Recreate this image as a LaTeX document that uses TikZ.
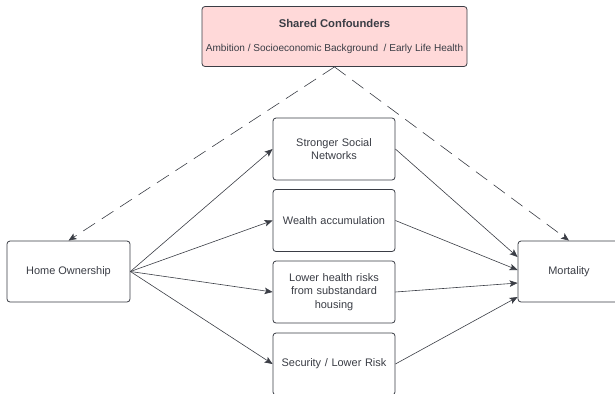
\documentclass[tikz,border=0pt]{standalone}
\usepackage{fontspec}
\setmainfont{Liberation Sans}
\usetikzlibrary{arrows.meta}
\definecolor{linegray}{HTML}{3A3D45}
\definecolor{confpink}{HTML}{FFD9D9}

\begin{document}
\begin{tikzpicture}[x=1bp,y=-1bp,
	box/.style={draw=linegray,line width=0.8bp,rounded corners=3bp,fill=white,
	  text=linegray,align=center,font=\fontsize{11}{13.3}\selectfont,inner sep=2bp},
	pathbox/.style={box,minimum width=122bp,minimum height=62bp,text width=115bp},
	link/.style={draw=linegray,line width=0.6bp,-{Stealth[length=8bp,width=6.5bp,inset=1.8bp]}},
	confound/.style={link,dash pattern=on 14bp off 8bp}]

	\useasboundingbox (0,0) rectangle (615,393);

	% the outer nodes
	\node[box,minimum width=265bp,minimum height=60bp,fill=confpink] (conf) at (334.5,36.5)
	  {\fontsize{11.3}{12}\selectfont\textbf{Shared Confounders}\\[11.5bp]
	   \fontsize{10.1}{12}\selectfont Ambition / Socioeconomic Background~~/ Early Life Health};
	\node[box,minimum width=123bp,minimum height=61bp] (home) at (68.5,271.5) {Home Ownership};
	\node[box,minimum width=102bp,minimum height=61bp] (mort) at (569,271.5) {Mortality};

	% the pathways in the middle
	\node[pathbox] (social) at (334,149) {Stronger Social\\Networks};
	\node[pathbox] (wealth) at (334,220.5) {Wealth accumulation};
	\node[pathbox] (housing) at (334,292) {Lower health risks\\from substandard\\housing};
	\node[pathbox] (security) at (334,364) {Security / Lower Risk};

	% arrows through the pathways
	\foreach \Name/\Shift in {social/14.5,wealth/1.5,housing/-11.5,security/-25.5}{
	  \draw[link] (home.east) -- (\Name.west);
	  \draw[link] (\Name.east) -- ([yshift=\Shift bp]mort.west);
	}

	% the shared confounders
	\draw[confound] (conf.south) -- (home.north);
	\draw[confound] (conf.south) -- (mort.north);
\end{tikzpicture}
\end{document}
